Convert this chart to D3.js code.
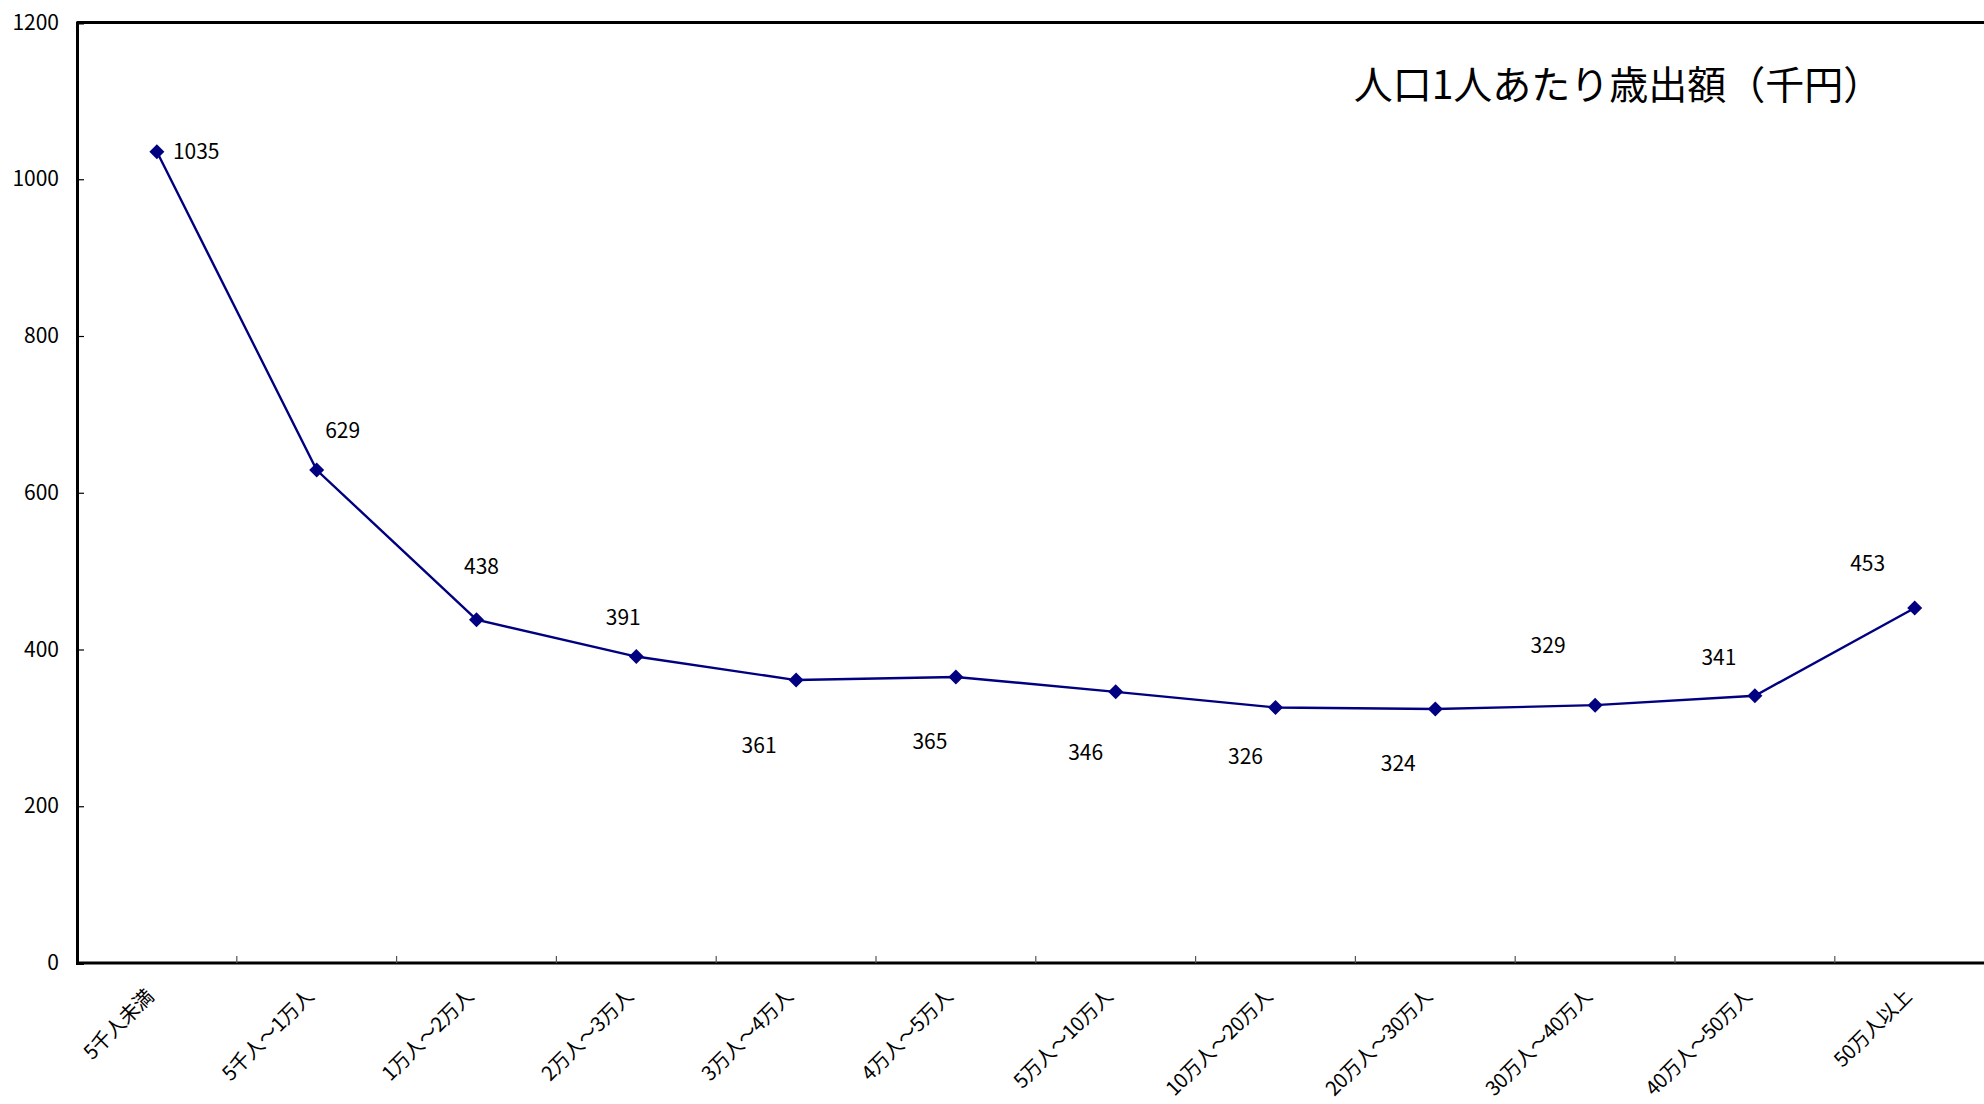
<!DOCTYPE html>
<html lang="ja">
<head>
<meta charset="utf-8">
<script src="https://cdn.jsdelivr.net/npm/d3@7"></script>
<style>
  html, body { margin: 0; padding: 0; background: #fff; }
  svg { display: block; font-family: "Noto Sans CJK JP", "Noto Sans", sans-serif; }
</style>
</head>
<body>
<svg id="chart" width="1984" height="1104"></svg>
<script>
// 人口規模別 人口1人あたり歳出額（千円）
const categories = [
  "5千人未満", "5千人～1万人", "1万人～2万人", "2万人～3万人",
  "3万人～4万人", "4万人～5万人", "5万人～10万人", "10万人～20万人",
  "20万人～30万人", "30万人～40万人", "40万人～50万人", "50万人以上"
];
const values = [1035, 629, 438, 391, 361, 365, 346, 326, 324, 329, 341, 453];
const yTicks = [0, 200, 400, 600, 800, 1000, 1200];
const title = "人口1人あたり歳出額（千円）";

// label placement relative to each marker (pixels)
const labelOffsets = [
  [16, 7, "start"], [26, -32, "middle"], [5, -46, "middle"], [-13, -32, "middle"],
  [-37, 73, "middle"], [-26, 72, "middle"], [-30, 68, "middle"], [-30, 57, "middle"],
  [-37, 62, "middle"], [-47, -52, "middle"], [-36, -31, "middle"], [-47, -37, "middle"]
];

const plotLeft = 77, plotTop = 22.5, plotBottom = 963, band = 159.8, plotRight = 2004;
const svg = d3.select("#chart");

const x = d3.scaleBand().domain(categories).range([plotLeft, plotLeft + band * categories.length]).padding(0);
const y = d3.scaleLinear().domain([0, 1200]).range([plotBottom, plotTop]);

// frame: top border
svg.append("line")
  .attr("x1", plotLeft).attr("x2", plotRight)
  .attr("y1", plotTop).attr("y2", plotTop)
  .attr("stroke", "#000").attr("stroke-width", 3);

// y axis
const yAxis = svg.append("g")
  .attr("transform", `translate(${plotLeft},0)`)
  .call(d3.axisLeft(y).tickValues(yTicks).tickSize(-7).tickPadding(18).tickFormat(d3.format("d")));
yAxis.select(".domain").attr("stroke", "#000").attr("stroke-width", 3);
yAxis.selectAll(".tick line").attr("stroke", "#000").attr("stroke-width", 1.2);
yAxis.selectAll(".tick text").attr("font-size", 21).attr("fill", "#000")
  .attr("font-family", "'Noto Sans CJK JP', sans-serif");

// x axis
const xAxis = svg.append("g")
  .attr("transform", `translate(0,${plotBottom})`)
  .call(d3.axisBottom(x).tickSize(0).tickFormat(() => ""));
xAxis.select(".domain").attr("d", `M${plotLeft},0H${plotRight}`)
  .attr("stroke", "#000").attr("stroke-width", 3);

// category boundary ticks
svg.append("g").selectAll("line")
  .data(categories.slice(1))
  .join("line")
  .attr("x1", d => x(d)).attr("x2", d => x(d))
  .attr("y1", plotBottom).attr("y2", plotBottom - 7)
  .attr("stroke", "#555").attr("stroke-width", 1.2);

// rotated category labels
svg.append("g").selectAll("text")
  .data(categories)
  .join("text")
  .attr("transform", d => `translate(${x(d) + x.bandwidth() / 2 - 2},${plotBottom + 35}) rotate(-45)`)
  .attr("text-anchor", "end")
  .attr("font-size", 20)
  .attr("letter-spacing", -0.5)
  .attr("fill", "#000")
  .text(d => d);

// series line
const cx = (d, i) => x(categories[i]) + x.bandwidth() / 2;
svg.append("path")
  .datum(values)
  .attr("fill", "none")
  .attr("stroke", "#000080")
  .attr("stroke-width", 2.4)
  .attr("d", d3.line().x(cx).y(d => y(d)));

// diamond markers
svg.append("g").selectAll("path")
  .data(values)
  .join("path")
  .attr("transform", (d, i) => `translate(${cx(d, i)},${y(d)})`)
  .attr("d", "M0,-7.5L7.5,0L0,7.5L-7.5,0Z")
  .attr("fill", "#000080");

// value labels
svg.append("g").selectAll("text")
  .data(values)
  .join("text")
  .attr("x", (d, i) => cx(d, i) + labelOffsets[i][0])
  .attr("y", (d, i) => y(d) + labelOffsets[i][1])
  .attr("text-anchor", (d, i) => labelOffsets[i][2])
  .attr("font-size", 21)
  .attr("fill", "#000")
  .text(d => d);

// title
svg.append("text")
  .attr("x", 1618).attr("y", 99)
  .attr("text-anchor", "middle")
  .attr("font-size", 39)
  .attr("fill", "#000")
  .text(title);
</script>
</body>
</html>
